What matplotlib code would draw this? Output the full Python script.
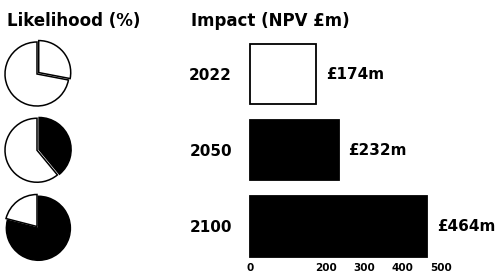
import matplotlib
matplotlib.use('Agg')
import matplotlib.pyplot as plt

# data
years = ["2022", "2050", "2100"]
likelihood_pct = [28, 39, 79]
impact_npv_m = [174, 232, 464]
impact_ticks = [0, 200, 300, 400, 500]
slice_colors = ["white", "black", "black"]
bar_colors = ["white", "black", "black"]

W, H, DPI = 502, 277, 100
ROW_TOP = 74.0      # pixel centre of first row
ROW_STEP = 76.25    # pixel distance between rows
PX_PER_UNIT = 0.3815
X_MAX = 520


def px_box(x0, y0, x1, y1):
    # pixel box (origin top-left) -> [left, bottom, width, height] in figure fraction
    return [x0 / W, 1 - y1 / H, (x1 - x0) / W, (y1 - y0) / H]


plt.rcParams['font.family'] = ['DejaVu Sans']
fig = plt.figure(figsize=(W / DPI, H / DPI), dpi=DPI)

fig.text(7 / W, 1 - 26.5 / H, "Likelihood (%)", fontsize=12,
         fontweight='bold', va='baseline')
fig.text(191 / W, 1 - 26.5 / H, "Impact (NPV £m)", fontsize=12,
         fontweight='bold', va='baseline')

# likelihood pies
r = 35.2
for i, pct in enumerate(likelihood_pct):
    cy = ROW_TOP + i * ROW_STEP
    pax = fig.add_axes(px_box(37 - r, cy - r, 37 + r, cy + r))
    pax.pie([pct, 100 - pct], colors=[slice_colors[i], "white"],
            explode=[0.07, 0], startangle=90, counterclock=False,
            wedgeprops=dict(edgecolor="black", linewidth=1.1))
    pax.set_xlim(-1.1, 1.1)
    pax.set_ylim(-1.1, 1.1)
    pax.set_aspect('equal')
    pax.axis('off')

# impact bars
y_lo, y_hi = 2.42, -0.5
bax = fig.add_axes(px_box(250, ROW_TOP + y_hi * ROW_STEP,
                          250 + X_MAX * PX_PER_UNIT, ROW_TOP + y_lo * ROW_STEP))
bars = bax.barh(range(len(years)), impact_npv_m, height=0.79,
                color=bar_colors, edgecolor="black", linewidth=1.3)
for b in bars:
    b.set_clip_on(False)
for i, v in enumerate(impact_npv_m):
    bax.annotate(f"£{v}m", xy=(v, i), xytext=(7, 0), textcoords='offset points',
                 va='center', ha='left', fontsize=11, fontweight='bold',
                 annotation_clip=False)

bax.set_xlim(0, X_MAX)
bax.set_ylim(y_lo, y_hi)
bax.set_yticks(range(len(years)), years)
bax.set_xticks(impact_ticks)
bax.tick_params(axis='y', length=0, pad=13, labelsize=11)
bax.tick_params(axis='x', length=0, pad=3.5, labelsize=7.5)
for lbl in bax.get_yticklabels() + bax.get_xticklabels():
    lbl.set_fontweight('bold')
for s in bax.spines.values():
    s.set_visible(False)

fig.savefig("out.png", dpi=DPI)
plt.close(fig)
